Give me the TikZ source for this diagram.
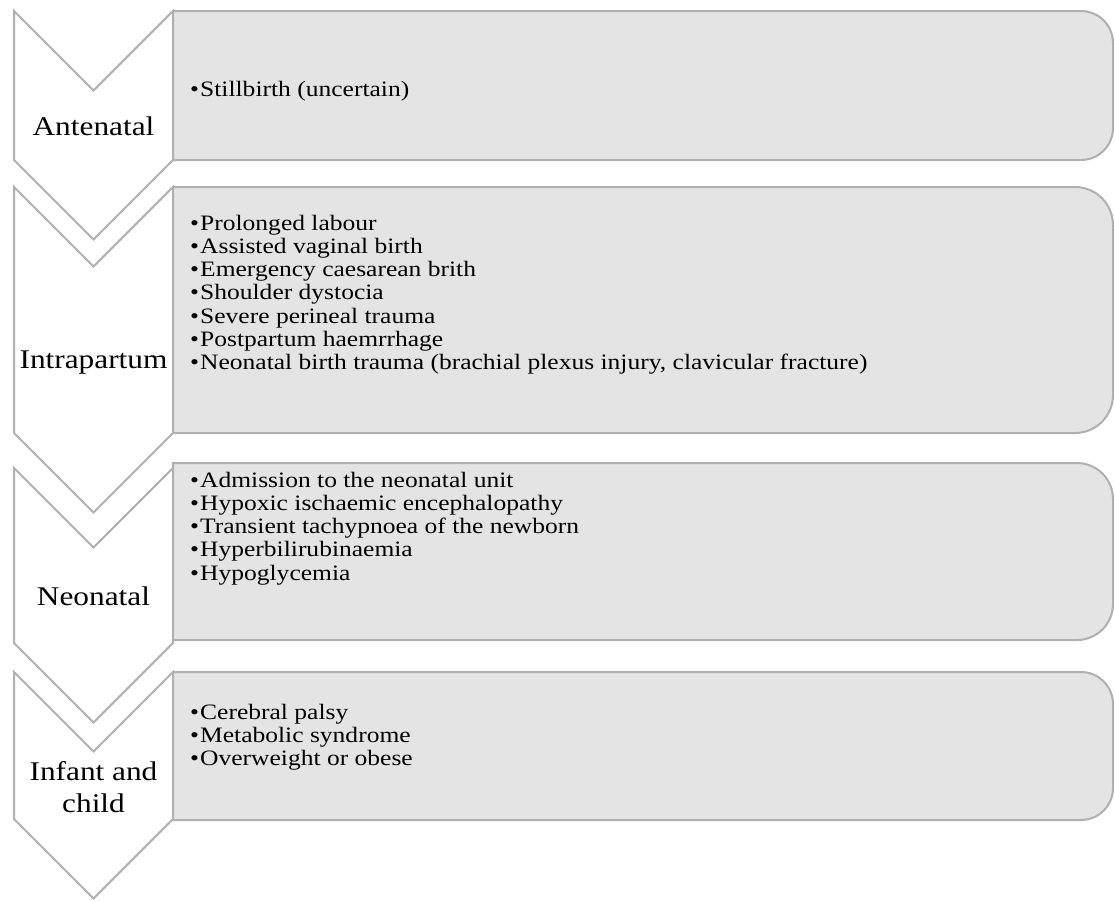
\documentclass[tikz,border=0pt]{standalone}
\usepackage{fontspec}
\setmainfont[FakeStretch=1.16]{Liberation Serif}
\definecolor{lineg}{HTML}{B0B0B0}
\definecolor{panelg}{HTML}{E4E4E4}
\newcommand\itm[1]{\makebox[10pt][l]{•}#1\par}
\begin{document}
\begin{tikzpicture}[x=1pt,y=-1pt,
  stage/.style={draw=lineg, line width=2pt, fill=white, line join=miter},
  panel/.style={draw=lineg, line width=2pt, fill=panelg},
  label/.style={anchor=base, inner sep=0, font=\fontsize{27}{32}\selectfont},
  items/.style={anchor=base west, inner sep=0, font=\fontsize{22}{23.3}\selectfont}]
\useasboundingbox (0,0) rectangle (1115,900);

% chevrons: left 14, right 173, notch depth 80
\draw[stage] (14,11)  -- (93.5,90.5)  -- (173,11)  -- (173,160) -- (93.5,239.5) -- (14,160) -- cycle;
\draw[stage] (14,187) -- (93.5,266.5) -- (173,187) -- (173,433) -- (93.5,512.5) -- (14,433) -- cycle;
\draw[stage] (14,468) -- (93.5,547.5) -- (173,468) -- (173,643) -- (93.5,722.5) -- (14,643) -- cycle;
\draw[stage] (14,672) -- (93.5,751.5) -- (173,672) -- (173,819) -- (93.5,898.5) -- (14,819) -- cycle;

% panels, rounded on the right side only
\draw[panel] (173,11) -- (1081,11) arc[start angle=90,end angle=0,radius=32pt]
  -- (1113,128) arc[start angle=0,end angle=-90,radius=32pt] -- (173,160) -- cycle;
\draw[panel] (173,187) -- (1075,187) arc[start angle=90,end angle=0,radius=38pt]
  -- (1113,395) arc[start angle=0,end angle=-90,radius=38pt] -- (173,433) -- cycle;
\draw[panel] (173,463) -- (1077,463) arc[start angle=90,end angle=0,radius=36pt]
  -- (1113,604) arc[start angle=0,end angle=-90,radius=36pt] -- (173,640) -- cycle;
\draw[panel] (173,672) -- (1081,672) arc[start angle=90,end angle=0,radius=32pt]
  -- (1113,788) arc[start angle=0,end angle=-90,radius=32pt] -- (173,820) -- cycle;

% stage names
\node[label] (antenatal) at (93.5,135) {Antenatal};
\node[label] (intrapartum) at (93.5,368) {Intrapartum};
\node[label] (neonatal) at (93.5,605) {Neonatal};
\node[label] (infant) at (93.5,780) {\begin{tabular}[t]{@{}c@{}}Infant and\\child\end{tabular}};

% outcome lists
\node[items] (list1) at (190,96) {\parbox[t]{900pt}{\itm{Stillbirth (uncertain)}}};
\node[items] (list2) at (190,230) {\parbox[t]{900pt}{%
  \itm{Prolonged labour}
  \itm{Assisted vaginal birth}
  \itm{Emergency caesarean brith}
  \itm{Shoulder dystocia}
  \itm{Severe perineal trauma}
  \itm{Postpartum haemrrhage}
  \itm{Neonatal birth trauma (brachial plexus injury, clavicular fracture)}}};
\node[items] (list3) at (190,487) {\parbox[t]{900pt}{%
  \itm{Admission to the neonatal unit}
  \itm{Hypoxic ischaemic encephalopathy}
  \itm{Transient tachypnoea of the newborn}
  \itm{Hyperbilirubinaemia}
  \itm{Hypoglycemia}}};
\node[items] (list4) at (190,719) {\parbox[t]{900pt}{%
  \itm{Cerebral palsy}
  \itm{Metabolic syndrome}
  \itm{Overweight or obese}}};
\end{tikzpicture}
\end{document}
